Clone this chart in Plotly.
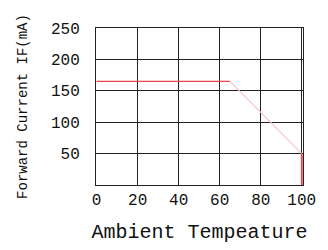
import plotly.graph_objects as go

# Data
temp_flat = [0, 65]
current_flat = [165, 165]
temp_derate = [65, 100]
current_derate = [165, 50]
temp_drop = [100, 100]
current_drop = [50, 0]
x_ticks = [0, 20, 40, 60, 80, 100]
y_ticks = [50, 100, 150, 200, 250]

FONT = "Liberation Mono, Courier New, monospace"

fig = go.Figure()
fig.add_trace(go.Scatter(x=temp_flat, y=current_flat, mode="lines",
                         line=dict(color="#e8434a", width=1.3)))
fig.add_trace(go.Scatter(x=temp_derate, y=current_derate, mode="lines",
                         line=dict(color="#f6c5c8", width=1.2)))
fig.add_trace(go.Scatter(x=temp_drop, y=current_drop, mode="lines",
                         line=dict(color="#e8434a", width=1.8)))

fig.update_layout(
    width=328, height=250,
    margin=dict(l=96, r=21, t=28, b=61),
    paper_bgcolor="white", plot_bgcolor="white",
    showlegend=False,
    font=dict(family=FONT, color="#111"),
)
fig.update_xaxes(
    range=[-0.3, 100.6], tickvals=x_ticks, ticktext=[str(v) for v in x_ticks],
    showgrid=True, gridcolor="#222", gridwidth=1,
    showline=True, linecolor="#222", linewidth=1, mirror=True,
    zeroline=False, ticks="", layer="below traces",
    tickfont=dict(size=16, family=FONT),
    title=dict(text="Ambient Tempeature", font=dict(size=20, family=FONT), standoff=14),
)
fig.update_yaxes(
    range=[0, 250], tickvals=y_ticks, ticktext=[str(v) for v in y_ticks],
    showgrid=True, gridcolor="#222", gridwidth=1,
    showline=True, linecolor="#222", linewidth=1, mirror=True,
    zeroline=False, ticks="", ticklabelstandoff=12, layer="below traces",
    tickfont=dict(size=16, family=FONT),
    title=dict(text="Forward Current IF(mA)", font=dict(size=14, family=FONT), standoff=20),
)

fig.write_html("out.html")
